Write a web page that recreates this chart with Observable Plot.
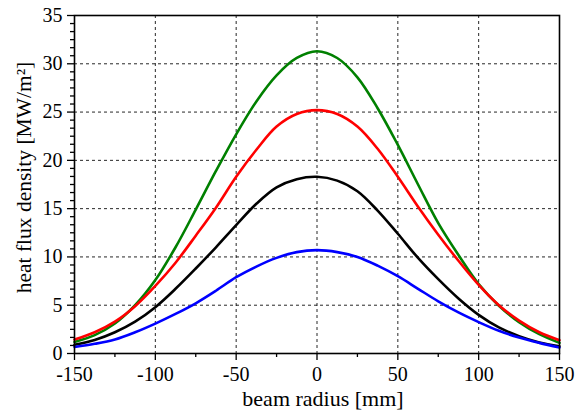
<!DOCTYPE html>
<html>
<head>
<meta charset="utf-8">
<script src="https://cdn.jsdelivr.net/npm/d3@7"></script>
<script src="https://cdn.jsdelivr.net/npm/@observablehq/plot@0.6"></script>
<style>
  html, body { margin: 0; padding: 0; background: #fff; }
  #chart { width: 580px; height: 414px; }
</style>
</head>
<body>
<div id="chart"></div>
<script>
const radius = [-150, -137.5, -125, -112.5, -100, -87.5, -75, -62.5, -50, -37.5, -25, -12.5, 0,
                12.5, 25, 37.5, 50, 62.5, 75, 87.5, 100, 112.5, 125, 137.5, 150];
const green = [1.2, 1.9, 3.1, 5.0, 7.6, 11.0, 14.9, 18.9, 22.7, 26.1, 28.8, 30.6, 31.3,
               30.6, 28.6, 25.4, 21.6, 17.5, 13.5, 10.2, 7.2, 4.95, 3.25, 2.0, 1.1];
const red   = [1.45, 2.2, 3.3, 4.9, 7.0, 9.4, 12.2, 15.1, 18.3, 21.1, 23.5, 24.8, 25.2,
               24.8, 23.5, 21.2, 18.3, 15.2, 12.3, 9.6, 7.1, 5.0, 3.4, 2.2, 1.38];
const black = [0.9, 1.4, 2.2, 3.3, 4.8, 6.7, 8.8, 11.0, 13.3, 15.5, 17.2, 18.05, 18.3,
               17.9, 16.8, 14.8, 12.4, 9.9, 7.7, 5.7, 4.0, 2.7, 1.8, 1.15, 0.76];
const blue  = [0.68, 1.0, 1.45, 2.2, 3.1, 4.1, 5.2, 6.5, 7.9, 9.0, 9.9, 10.5, 10.7,
               10.5, 10.0, 9.1, 8.0, 6.7, 5.4, 4.25, 3.25, 2.35, 1.65, 1.1, 0.62];

const xTicks = [-150, -100, -50, 0, 50, 100, 150];
const xMinorTicks = [-125, -75, -25, 25, 75, 125];
const yTicks = [0, 5, 10, 15, 20, 25, 30, 35];
const xLabel = "beam radius [mm]";
const yLabel = "heat flux density [MW/m²]";

const seriesList = [
  {name: "green", color: "#008000", values: green},
  {name: "red", color: "#ff0000", values: red},
  {name: "black", color: "#000000", values: black},
  {name: "blue", color: "#0000ff", values: blue}
];
const rows = seriesList.flatMap(s => radius.map((r, i) => ({series: s.name, x: r, y: s.values[i]})));
const yMinorTicks = d3.range(0, 35.0001, 5 / 6).filter(v => Math.abs(v / 5 - Math.round(v / 5)) > 1e-6);
const fmt = d => String(d);

const chart = Plot.plot({
  width: 580,
  height: 414,
  marginLeft: 74,
  marginRight: 21,
  marginTop: 15,
  marginBottom: 61,
  style: {fontFamily: "'Liberation Serif', 'Times New Roman', serif", fontSize: "20px", color: "#000", background: "#fff"},
  x: {domain: [-150, 150]},
  y: {domain: [0, 35]},
  color: {domain: seriesList.map(s => s.name), range: seriesList.map(s => s.color)},
  marks: [
    Plot.gridX(xTicks, {stroke: "#000", strokeOpacity: 0.85, strokeDasharray: "3,3", strokeWidth: 1}),
    Plot.gridY(yTicks, {stroke: "#000", strokeOpacity: 0.85, strokeDasharray: "3,3", strokeWidth: 1}),
    Plot.line(rows, {x: "x", y: "y", z: "series", stroke: "series", strokeWidth: 2.6, curve: "catmull-rom"}),
    Plot.frame({stroke: "#000", strokeWidth: 1.6}),
    Plot.axisX(xTicks, {anchor: "bottom", tickSize: 7, tickPadding: 6, fontSize: 20, tickFormat: fmt, label: null, strokeWidth: 1.3}),
    Plot.axisX(xMinorTicks, {anchor: "bottom", tickSize: 4, tickFormat: () => "", label: null, strokeWidth: 1.3}),
    Plot.axisY(yTicks, {anchor: "left", tickSize: 7, tickPadding: 5, fontSize: 20, tickFormat: fmt, label: null, strokeWidth: 1.3}),
    Plot.axisY(yMinorTicks, {anchor: "left", tickSize: 4, tickFormat: () => "", label: null, strokeWidth: 1.3}),
    Plot.text([xLabel], {frameAnchor: "bottom", lineAnchor: "middle", textAnchor: "middle", dy: 45, dx: 6, fontSize: 22, fill: "#000"}),
    Plot.text([yLabel], {frameAnchor: "left", lineAnchor: "middle", textAnchor: "middle", rotate: -90, dx: -50, dy: -7, fontSize: 21.5, fill: "#000"})
  ]
});
document.getElementById("chart").appendChild(chart);
</script>
</body>
</html>
